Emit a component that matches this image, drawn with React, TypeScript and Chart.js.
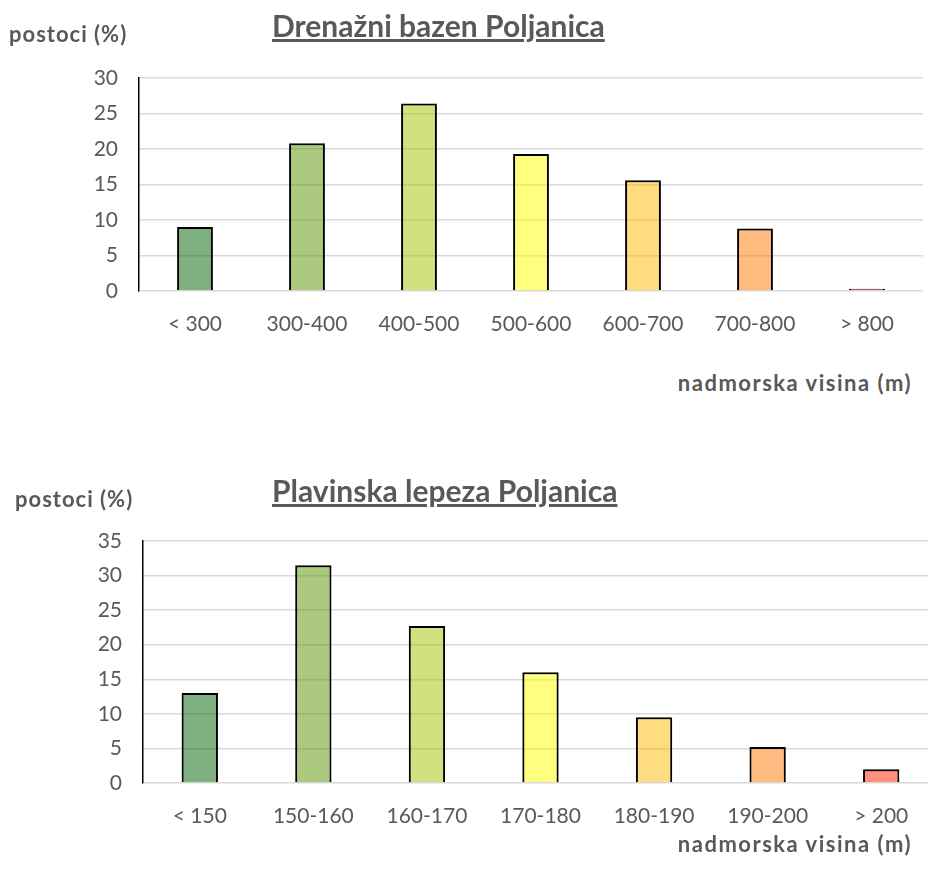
import React, { useEffect, useRef } from "react";
import { Chart, registerables } from "chart.js";

Chart.register(...registerables);

const topCategories = ["< 300", "300-400", "400-500", "500-600", "600-700", "700-800", "> 800"];
const topValues = [9.0, 20.8, 26.4, 19.3, 15.6, 8.8, 0.3];
const topMax = 30;

const bottomCategories = ["< 150", "150-160", "160-170", "170-180", "180-190", "190-200", "> 200"];
const bottomValues = [13.0, 31.5, 22.7, 16.0, 9.5, 5.2, 2.0];
const bottomMax = 35;

const tickStep = 5;

const barColors = [
  "rgba(0,97,0,0.5)",
  "rgba(87,149,1,0.5)",
  "rgba(167,193,0,0.5)",
  "rgba(255,255,0,0.5)",
  "rgba(255,185,1,0.5)",
  "rgba(255,119,1,0.5)",
  "rgba(255,33,1,0.5)",
];

const GRAY = "#595959";
const FONT = "Lato, 'Open Sans', sans-serif";

type BarProps = {
  labels: string[];
  values: number[];
  max: number;
  top: number;
  width: number;
  height: number;
  padTop: number;
  padRight: number;
  padBottom: number;
  yWidth: number;
  xHeight: number;
};

function BarChart(p: BarProps) {
  const ref = useRef<HTMLCanvasElement | null>(null);
  useEffect(() => {
    if (!ref.current) return;
    const chart = new Chart(ref.current, {
      type: "bar",
      data: {
        labels: p.labels,
        datasets: [
          {
            data: p.values,
            backgroundColor: barColors,
            borderColor: "#000000",
            borderWidth: 2,
            barPercentage: 0.32,
            categoryPercentage: 1,
          },
        ],
      },
      options: {
        responsive: false,
        maintainAspectRatio: false,
        animation: false,
        devicePixelRatio: 1,
        layout: { padding: { top: p.padTop, left: 0, right: p.padRight, bottom: p.padBottom } },
        plugins: { legend: { display: false }, title: { display: false }, tooltip: { enabled: false } },
        scales: {
          x: {
            grid: { display: false },
            border: { display: false },
            ticks: { color: GRAY, font: { family: FONT, size: 21 }, padding: 13, maxRotation: 0, autoSkip: false },
            afterFit: (s: any) => {
              s.height = p.xHeight;
            },
          },
          y: {
            min: 0,
            max: p.max,
            grid: { color: "#d9d9d9", lineWidth: 1.5, drawTicks: false },
            border: { display: true, color: "#000000", width: 1.5 },
            ticks: { stepSize: tickStep, color: GRAY, font: { family: FONT, size: 21 }, padding: 21 },
            afterFit: (s: any) => {
              s.width = p.yWidth;
            },
          },
        },
      },
    } as any);
    return () => chart.destroy();
  }, []);
  return (
    <canvas
      ref={ref}
      width={p.width}
      height={p.height}
      style={{ position: "absolute", left: 0, top: p.top, width: p.width, height: p.height }}
    />
  );
}

const titleStyle: React.CSSProperties = {
  position: "absolute",
  fontFamily: FONT,
  fontWeight: 700,
  color: GRAY,
  lineHeight: 1,
  whiteSpace: "nowrap",
  margin: 0,
};

export default function App() {
  return (
    <div
      style={{
        position: "absolute",
        left: 0,
        top: 0,
        width: 928,
        height: 881,
        overflow: "hidden",
        background: "#ffffff",
      }}
    >
      <BarChart
        labels={topCategories}
        values={topValues}
        max={topMax}
        top={0}
        width={928}
        height={360}
        padTop={78}
        padRight={5}
        padBottom={9}
        yWidth={139}
        xHeight={60}
      />
      <BarChart
        labels={bottomCategories}
        values={bottomValues}
        max={bottomMax}
        top={440}
        width={945}
        height={420}
        padTop={101}
        padRight={7}
        padBottom={17}
        yWidth={143}
        xHeight={60}
      />
      <div style={{ ...titleStyle, left: 272, top: 10, fontSize: 30, textDecoration: "underline" }}>
        Drenažni bazen Poljanica
      </div>
      <div style={{ ...titleStyle, left: 9, top: 23, fontSize: 22, letterSpacing: 1 }}>postoci (%)</div>
      <div style={{ ...titleStyle, right: 16, top: 372, fontSize: 22, letterSpacing: 1.5 }}>
        nadmorska visina (m)
      </div>

      <div style={{ ...titleStyle, left: 272, top: 475, fontSize: 30, textDecoration: "underline" }}>
        Plavinska lepeza Poljanica
      </div>
      <div style={{ ...titleStyle, left: 15, top: 488, fontSize: 22, letterSpacing: 1 }}>postoci (%)</div>
      <div style={{ ...titleStyle, right: 16, top: 833, fontSize: 22, letterSpacing: 1.5 }}>
        nadmorska visina (m)
      </div>
    </div>
  );
}
